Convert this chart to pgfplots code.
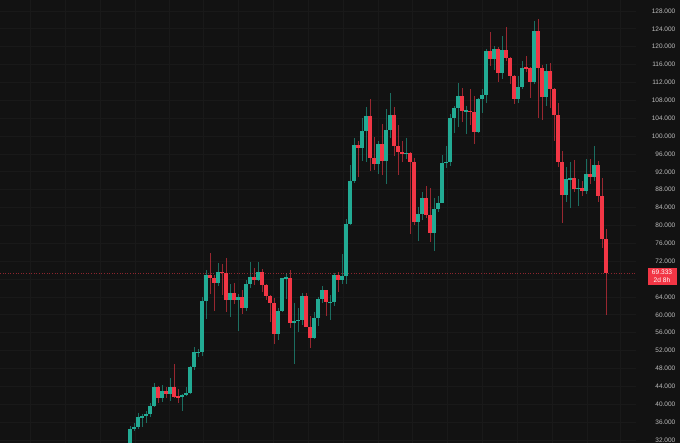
\documentclass[border=0pt]{standalone}
\usepackage{pgfplots}
\pgfplotsset{compat=1.18}
\usepackage{pgfplotstable}
\usepackage{fontspec}
\setmainfont{Liberation Sans}
\definecolor{bg}{HTML}{121212}
\definecolor{gridc}{HTML}{191919}
\definecolor{upc}{HTML}{22AB94}
\definecolor{dnc}{HTML}{F23645}
\definecolor{lbl}{HTML}{BDBDBD}

% weekly candles, values in thousands
\pgfplotstableread{
x o h l c
0 30.0 35.2 29.9 34.5
1 34.5 35.9 34.1 35.0
2 35.0 38.0 34.5 37.1
3 37.1 37.9 34.8 37.4
4 37.4 38.4 35.7 37.8
5 37.8 40.2 37.2 39.5
6 39.5 44.7 39.3 43.8
8 41.4 44.4 40.6 43.0
10 42.3 45.9 40.8 43.9
13 41.6 42.2 38.5 42.0
14 42.0 43.9 41.9 42.6
15 42.6 48.5 42.3 48.3
16 48.3 52.8 47.7 51.6
17 51.6 52.4 50.6 51.7
18 51.7 64.0 50.9 63.1
19 63.1 70.1 59.0 68.9
22 67.2 71.7 66.5 69.6
25 63.4 66.9 59.6 64.9
27 63.4 64.7 56.5 63.9
29 61.5 67.7 60.8 66.9
30 66.9 71.9 66.1 68.5
32 67.7 71.9 67.6 69.6
37 55.8 61.5 54.3 60.8
38 60.8 68.3 60.6 68.2
39 68.2 69.4 63.5 68.3
41 58.1 62.7 49.1 58.7
42 58.7 61.6 56.1 58.9
43 58.9 65.0 57.8 64.2
46 54.8 60.6 54.6 59.2
47 59.2 64.1 57.5 63.6
48 63.6 66.5 62.7 65.6
50 62.8 64.5 58.9 62.9
51 62.9 69.4 62.0 69.0
53 67.9 73.6 66.8 68.8
54 68.8 81.5 66.8 80.4
55 80.4 93.5 80.2 89.9
56 89.9 99.6 89.4 98.0
58 97.3 104.0 94.5 101.2
59 101.2 106.6 94.2 104.5
62 93.7 99.0 91.5 98.3
64 94.5 106.0 89.3 101.3
65 101.3 109.6 99.6 104.7
69 96.1 99.5 94.8 96.3
72 80.7 84.2 76.6 82.6
73 82.6 87.5 81.2 86.1
76 78.4 86.1 74.4 83.7
77 83.7 86.5 83.0 85.1
78 85.1 95.8 85.1 94.0
79 94.0 97.9 92.8 94.3
80 94.3 104.9 93.4 104.1
81 104.1 106.7 100.8 106.4
82 106.4 111.9 102.1 109.0
84 105.6 106.8 100.4 105.7
87 100.9 108.5 100.8 108.4
88 108.4 110.5 105.1 109.2
89 109.2 119.5 107.5 119.1
91 117.3 120.2 114.8 119.4
93 114.2 122.3 112.7 119.3
97 108.3 113.4 107.3 111.1
98 111.1 116.8 110.6 115.3
101 112.2 125.7 111.6 123.5
104 108.7 116.1 106.7 114.5
109 86.8 93.1 85.2 90.4
110 90.4 94.2 84.0 90.6
112 88.2 90.4 84.4 88.5
114 87.8 94.8 87.0 91.5
116 90.8 97.9 90.0 93.6
}\upt

\pgfplotstableread{
x o h l c
7 43.8 44.0 40.2 41.4
9 43.0 43.8 41.4 42.3
11 43.9 48.9 41.5 41.7
12 41.7 43.5 40.3 41.6
20 68.9 73.8 64.6 68.3
21 68.3 68.9 60.8 67.2
23 69.6 71.3 64.5 69.4
24 69.4 72.7 60.7 63.4
26 64.9 67.2 62.4 63.4
28 63.9 65.5 60.2 61.5
31 68.5 70.6 66.6 67.7
33 69.6 70.2 65.1 66.6
34 66.6 66.9 63.4 64.2
35 64.2 64.5 58.4 62.7
36 62.7 63.8 53.5 55.8
40 68.3 70.0 57.1 58.1
44 64.2 64.9 57.2 57.3
45 57.3 59.8 52.6 54.8
49 65.6 65.6 59.8 62.8
52 69.0 69.5 65.1 67.9
57 98.0 98.9 90.8 97.3
60 104.5 108.4 92.2 95.2
61 95.2 99.9 92.5 93.7
63 98.3 102.7 91.2 94.5
66 104.7 106.5 95.5 97.7
67 97.7 102.5 91.2 96.5
68 96.5 98.8 94.1 96.1
70 96.3 96.5 78.2 94.3
71 94.3 95.0 80.0 80.7
74 86.1 88.8 81.6 82.3
75 82.3 88.5 76.2 78.4
83 109.0 110.7 103.1 105.6
85 105.7 110.5 102.6 105.5
86 105.5 108.9 98.2 100.9
90 119.1 123.2 115.7 117.3
92 119.4 120.0 112.0 114.2
94 119.3 124.5 116.8 117.5
95 117.5 117.6 111.7 113.5
96 113.5 113.6 107.3 108.3
99 115.3 117.9 114.4 115.2
100 115.2 115.4 108.6 112.2
102 123.5 126.2 104.0 115.2
103 115.2 115.9 103.5 108.7
105 114.5 116.4 106.3 110.5
106 110.5 110.8 98.9 104.7
107 104.7 107.5 93.0 94.3
108 94.3 96.6 80.6 86.8
111 90.6 94.6 87.6 88.2
113 88.5 90.0 86.6 87.8
115 91.5 94.8 89.3 90.8
117 93.6 94.5 85.2 86.6
118 86.6 90.6 75.0 77.0
119 77.0 79.3 60.0 69.333
}\dnt

\begin{document}
\begin{tikzpicture}
\path[use as bounding box] (0,0) rectangle (680pt,443pt);
\fill[bg] (0,0) rectangle (680pt,443pt);
\begin{axis}[
  at={(0,0)}, anchor=south west,
  scale only axis, width=636pt, height=443pt,
  xmin=-32.5, xmax=126.5, ymin=31.33, ymax=130.46,
  axis line style={draw=none},
  major tick length=0pt,
  xtick={-24.9,-16.1,-7.4,1.3,9.9,18.4,27.1,35.9,44.7,53.4,62.1,70.6,79.3,88.1,96.9,105.6,114.3,122.7},
  xticklabels={},
  ytick={32,36,40,44,48,52,56,60,64,72,76,80,84,88,92,96,100,104,108,112,116,120,124,128},
  yticklabels={32.000,36.000,40.000,44.000,48.000,52.000,56.000,60.000,64.000,72.000,76.000,80.000,84.000,88.000,92.000,96.000,100.000,104.000,108.000,112.000,116.000,120.000,124.000,128.000},
  extra y ticks={68}, extra y tick labels={},
  yticklabel pos=right,
  yticklabel style={anchor=east, xshift=39.5pt, inner sep=0pt, font=\fontsize{6.5}{7.5}\selectfont, text=lbl},
  grid=major,
  major grid style={draw=gridc, line width=0.8pt},
  extra tick style={grid=major, major grid style={draw=gridc, line width=0.8pt}},
  clip=false,
]
% wicks
\addplot[draw=none, mark=none, forget plot,
  error bars/.cd, y dir=both, y explicit, error mark=none,
  error bar style={draw=upc, line width=0.9pt, opacity=0.6}]
  table[x=x, y expr={(\thisrow{h}+\thisrow{l})/2}, y error expr={(\thisrow{h}-\thisrow{l})/2}] {\upt};
\addplot[draw=none, mark=none, forget plot,
  error bars/.cd, y dir=both, y explicit, error mark=none,
  error bar style={draw=dnc, line width=0.9pt, opacity=0.6}]
  table[x=x, y expr={(\thisrow{h}+\thisrow{l})/2}, y error expr={(\thisrow{h}-\thisrow{l})/2}] {\dnt};
% price line
\addplot[dnc, dotted, line width=0.6pt, opacity=0.55, forget plot] coordinates {(-32.5,69.333) (126.5,69.333)};
% bodies
\addplot[draw=none, mark=none, forget plot,
  error bars/.cd, y dir=both, y explicit, error mark=none,
  error bar style={draw=upc, line width=3.1pt}]
  table[x=x, y expr={(\thisrow{o}+\thisrow{c})/2}, y error expr={max(abs(\thisrow{c}-\thisrow{o})/2,0.12)}] {\upt};
\addplot[draw=none, mark=none, forget plot,
  error bars/.cd, y dir=both, y explicit, error mark=none,
  error bar style={draw=dnc, line width=3.1pt}]
  table[x=x, y expr={(\thisrow{o}+\thisrow{c})/2}, y error expr={max(abs(\thisrow{c}-\thisrow{o})/2,0.12)}] {\dnt};
\node[fill=dnc, text=white, inner sep=0pt, minimum width=29pt, minimum height=17pt,
  align=center, font=\fontsize{6.6}{7.6}\selectfont] at (axis cs:133,68.59) {69.333\\2d 8h};
\end{axis}
\end{tikzpicture}
\end{document}
